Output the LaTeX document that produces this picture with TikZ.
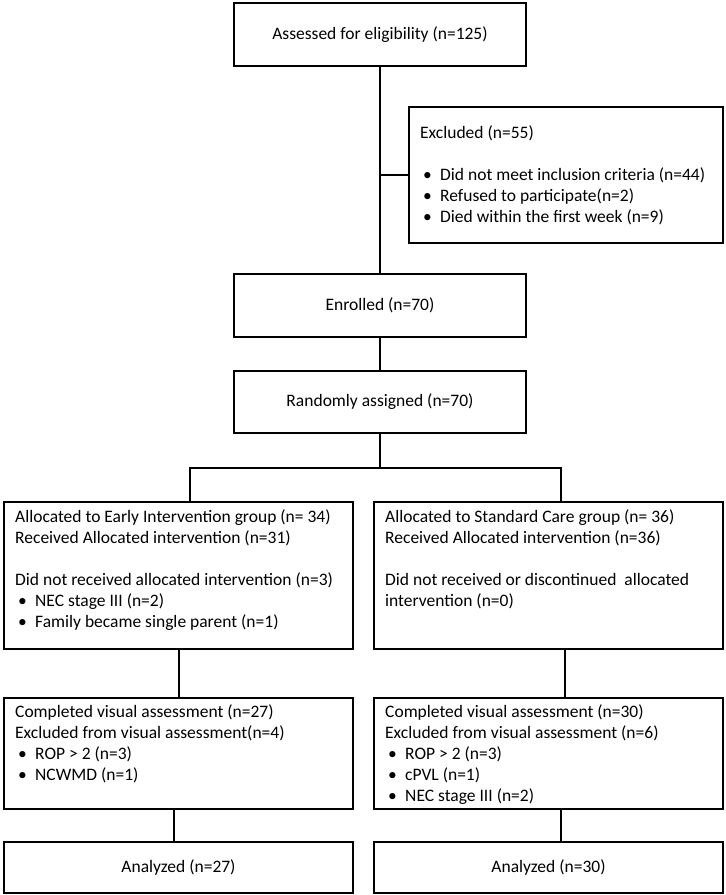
\documentclass[tikz,border=0pt]{standalone}
\usepackage{fontspec}
\setmainfont{Carlito}

\begin{document}
\begin{tikzpicture}[x=1pt,y=-1pt,every node/.style={font=\fontsize{17.5}{21}\selectfont}]

\tikzset{box/.style = {shape=rectangle,draw,line width=2pt,inner sep=0pt}}
\tikzset{midbox/.style = {box,minimum width=292pt,minimum height=63pt}}
\tikzset{sidebox/.style = {box,anchor=north west,minimum width=349pt}}
\tikzset{txt/.style = {align=left,anchor=north west,inner sep=0pt}}
\tikzset{edge/.style = {line width=2pt}}
\newcommand\bul{\hspace*{3pt}\makebox[17pt][l]{\textbullet}}
\useasboundingbox (0,0) rectangle (726,895);
% boxes
\node[midbox] (Assess) at (380,34.5) {Assessed for eligibility (n=125)};
\node[box,anchor=north west,minimum width=314pt,minimum height=136pt] (Excl) at (408,106) {};
\node[txt] (ExclText) at ([xshift=12pt,yshift=-19pt]Excl.north west)
  {Excluded (n=55)\\[21pt]
   \bul Did not meet inclusion criteria (n=44)\\
   \bul Refused to participate(n=2)\\
   \bul Died within the first week (n=9)};
\node[midbox] (Enrolled) at (380,305.5) {Enrolled (n=70)};
\node[midbox,minimum height=62pt] (Random) at (380,402) {Randomly assigned (n=70)};
\coordinate (Split) at (380,468);
\node[sidebox,minimum height=147pt] (AllocL) at (3,501) {};
\node[sidebox,minimum height=147pt] (AllocR) at (373,501) {};
\node[txt] (AllocLText) at ([xshift=12pt,yshift=-8pt]AllocL.north west)
  {Allocated to Early Intervention group (n= 34)\\
   Received Allocated intervention (n=31)\\[21pt]
   Did not received allocated intervention (n=3)\\
   \bul NEC stage III (n=2)\\
   \bul Family became single parent (n=1)};
\node[txt] (AllocRText) at ([xshift=12pt,yshift=-8pt]AllocR.north west)
  {Allocated to Standard Care group (n= 36)\\
   Received Allocated intervention (n=36)\\[21pt]
   Did not received or discontinued\ \ allocated\\
   intervention (n=0)};
\node[sidebox,minimum height=111pt] (CompL) at (3,697) {};
\node[sidebox,minimum height=111pt] (CompR) at (373,697) {};
\node[txt] (CompLText) at ([xshift=12pt,yshift=-7pt]CompL.north west)
  {Completed visual assessment (n=27)\\
   Excluded from visual assessment(n=4)\\
   \bul ROP > 2 (n=3)\\
   \bul NCWMD (n=1)};
\node[txt] (CompRText) at ([xshift=12pt,yshift=-7pt]CompR.north west)
  {Completed visual assessment (n=30)\\
   Excluded from visual assessment (n=6)\\
   \bul ROP > 2 (n=3)\\
   \bul cPVL (n=1)\\
   \bul NEC stage III (n=2)};
\node[sidebox,minimum height=51pt] (AnL) at (3,841) {};
\node[sidebox,minimum height=51pt] (AnR) at (373,841) {};
\node (AnLText) at (AnL.center) {Analyzed (n=27)};
\node (AnRText) at (AnR.center) {Analyzed (n=30)};
%edges
\draw[edge] (Assess) to (Enrolled);
\draw[edge] (Assess.south |- Excl.west) to (Excl.west);
\draw[edge] (Enrolled) to (Random);
\draw[edge] (Random) to (Split);
\draw[edge] ([xshift=11.5pt]AllocL.north) |- (Split) -| ([xshift=12.5pt]AllocR.north);
\draw[edge] ([xshift=0.5pt]AllocL.south) to ([xshift=0.5pt]CompL.north);
\draw[edge] ([xshift=16.5pt]AllocR.south) to ([xshift=16.5pt]CompR.north);
\draw[edge] ([xshift=-4.5pt]CompL.south) to ([xshift=-4.5pt]AnL.north);
\draw[edge] ([xshift=12.5pt]CompR.south) to ([xshift=12.5pt]AnR.north);
\end{tikzpicture}
\end{document}
